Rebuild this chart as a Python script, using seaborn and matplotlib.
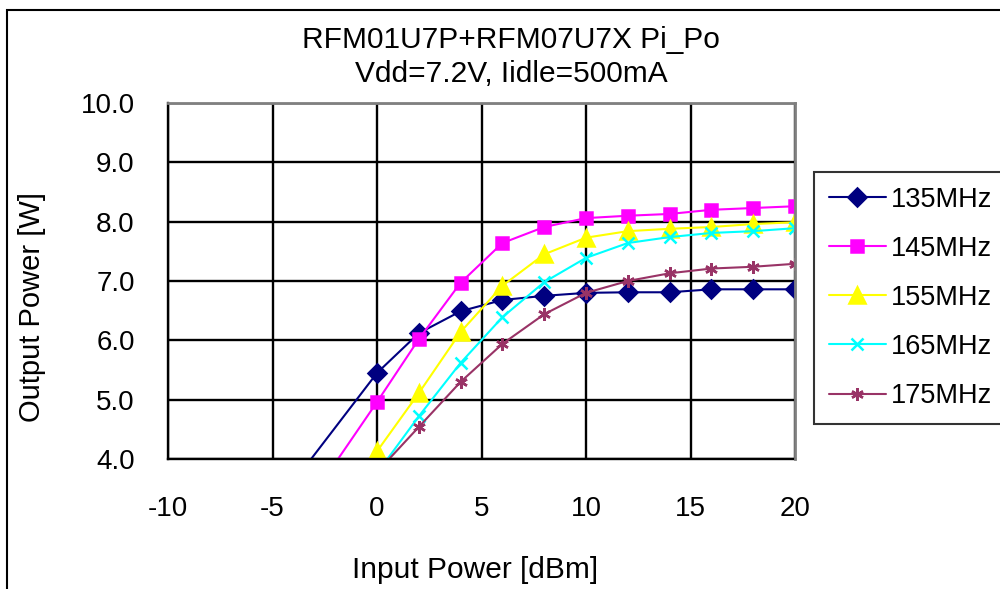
import matplotlib
matplotlib.use('Agg')
import matplotlib.pyplot as plt
import matplotlib.ticker as mticker
from matplotlib.patches import Rectangle
import seaborn as sns
import pandas as pd

# values (W vs dBm)
x_135 = [-4, 0, 2, 4, 6, 8, 10, 12, 14, 16, 18, 20]
y_135 = [3.61, 5.45, 6.12, 6.49, 6.68, 6.75, 6.80, 6.81, 6.81, 6.86, 6.86, 6.86]
x_145 = [-2, 0, 2, 4, 6, 8, 10, 12, 14, 16, 18, 20]
y_145 = [3.93, 4.96, 6.02, 6.97, 7.64, 7.91, 8.06, 8.10, 8.13, 8.20, 8.23, 8.26]
x_155 = [-2, 0, 2, 4, 6, 8, 10, 12, 14, 16, 18, 20]
y_155 = [3.10, 4.13, 5.11, 6.14, 6.92, 7.45, 7.73, 7.84, 7.88, 7.91, 7.96, 7.99]
x_165 = [0, 2, 4, 6, 8, 10, 12, 14, 16, 18, 20]
y_165 = [3.76, 4.72, 5.62, 6.39, 6.98, 7.39, 7.64, 7.74, 7.81, 7.84, 7.89]
x_175 = [0, 2, 4, 6, 8, 10, 12, 14, 16, 18, 20]
y_175 = [3.78, 4.54, 5.30, 5.94, 6.44, 6.80, 7.00, 7.13, 7.21, 7.24, 7.29]

labels = ['135MHz', '145MHz', '155MHz', '165MHz', '175MHz']
colors = ['#000080', '#FF00FF', '#FFFF00', '#00FFFF', '#993366']
markers = ['D', 's', '^', 'x', (6, 2, 0)]
msizes = [9, 9, 11, 9, 9]

xs = [x_135, x_145, x_155, x_165, x_175]
ys = [y_135, y_145, y_155, y_165, y_175]

sns.set_style('white')
plt.rcParams['font.family'] = ['Liberation Sans', 'DejaVu Sans']
plt.rcParams['axes.unicode_minus'] = False
plt.rcParams['text.color'] = 'black'
plt.rcParams['xtick.color'] = 'black'
plt.rcParams['ytick.color'] = 'black'

fig = plt.figure(figsize=(10, 5.89), dpi=100)
ax = fig.add_axes([0.168, 1 - 459 / 589, 0.795 - 0.168, (459 - 103) / 589])

for xv, yv, lab, c, m, ms in zip(xs, ys, labels, colors, markers, msizes):
    df = pd.DataFrame({'x': xv, 'y': yv})
    shown = [i for i, v in enumerate(yv) if v >= 4]
    sns.lineplot(data=df, x='x', y='y', ax=ax, color=c, marker=m, markersize=ms,
                 markevery=shown, linewidth=1.5, label=lab, sort=False,
                 markeredgecolor=c, markerfacecolor=c, markeredgewidth=1.8)

ax.set_xlim(-10, 20)
ax.set_ylim(4, 10)
ax.set_xticks(range(-10, 21, 5))
ax.set_yticks(range(4, 11))
ax.yaxis.set_major_formatter(mticker.FormatStrFormatter('%.1f'))
ax.grid(True, color='black', linewidth=1.7)
ax.set_axisbelow(True)
ax.tick_params(axis='x', length=0, pad=27, labelsize=20, labelcolor='black')
ax.tick_params(axis='y', length=0, pad=24, labelsize=20, labelcolor='black')
ax.set_xlabel('')
ax.set_ylabel('')
for side in ['left', 'bottom']:
    ax.spines[side].set_color('black')
    ax.spines[side].set_linewidth(1.7)
for side in ['top', 'right']:
    ax.spines[side].set_color('#808080')
    ax.spines[side].set_linewidth(2)
    ax.spines[side].set_zorder(4)

ax.get_legend().remove()
handles, labs = ax.get_legend_handles_labels()
leg = fig.legend(handles, labs, loc='upper left', bbox_to_anchor=(0.814, 1 - 172 / 589),
                 borderaxespad=0, fontsize=19.5, frameon=True, fancybox=False,
                 edgecolor='black', handlelength=2.1, handletextpad=0.2,
                 labelspacing=0.85, borderpad=0.55)
leg.get_frame().set_linewidth(1.5)

fig.text(0.511, 1 - 57 / 589, 'RFM01U7P+RFM07U7X Pi_Po\nVdd=7.2V, Iidle=500mA',
         ha='center', va='center', fontsize=21.5, linespacing=1.3)
fig.text(0.475, 1 - 570 / 589, 'Input Power [dBm]', ha='center', va='center', fontsize=21.5)
fig.text(0.032, 1 - 307 / 589, 'Output Power [W]', ha='center', va='center',
         rotation=90, fontsize=21)

fig.patches.append(Rectangle((0.007, -0.1), 1.1, 1.1 - 10 / 589, transform=fig.transFigure,
                             fill=False, edgecolor='black', linewidth=1.5))

fig.savefig('out.png', dpi=100)
